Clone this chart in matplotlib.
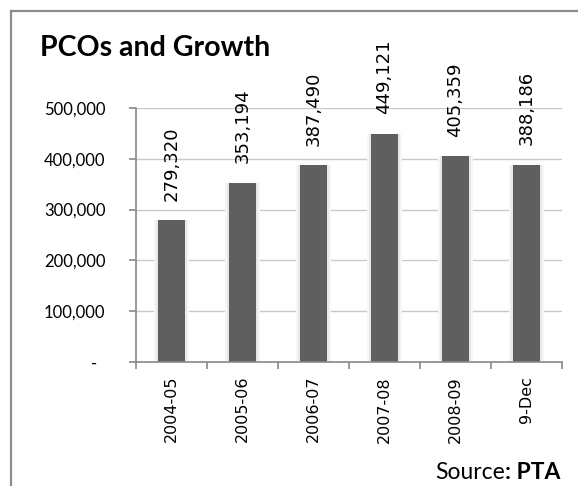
import matplotlib
matplotlib.use("Agg")
import matplotlib.pyplot as plt
from matplotlib.lines import Line2D
import numpy as np

# PCO counts per fiscal year
years = ["2004-05", "2005-06", "2006-07", "2007-08", "2008-09", "9-Dec"]
pcos = [279320, 353194, 387490, 449121, 405359, 388186]
yticks = [0, 100000, 200000, 300000, 400000, 500000]
ytick_labels = ["-  ", "100,000", "200,000", "300,000", "400,000", "500,000"]

fig = plt.figure(figsize=(5.78, 4.86), dpi=100)
fig.patch.set_facecolor("white")

# chart frame (left and top edges only)
fig.add_artist(Line2D([11 / 578, 11 / 578], [0, 1 - 11 / 486], color="#8c8c8c", lw=1.6))
fig.add_artist(Line2D([11 / 578, 1], [1 - 11 / 486, 1 - 11 / 486], color="#8c8c8c", lw=1.6))

ax = fig.add_axes([136 / 578, 124 / 486, 426 / 578, 254 / 486])
x = np.arange(len(years))

for v in yticks[1:]:
    ax.axhline(v, color="#c8c8c8", lw=1, zorder=0)

# soft glow behind each bar
ax.bar(x, pcos, width=0.50, color="#f6f6f6", zorder=1)
ax.bar(x, pcos, width=0.44, color="#e8e8e8", zorder=1)
ax.bar(x, pcos, width=0.37, color="#5f5f5f", zorder=2)

for xi, v in zip(x, pcos):
    ax.annotate(f"{v:,}", (xi, v), xytext=(0, 14), textcoords="offset points",
                rotation=90, ha="center", va="bottom", fontsize=13, color="black")

ax.set_xlim(-0.5, len(years) - 0.5)
ax.set_ylim(0, 500000)
ax.set_yticks(yticks)
ax.set_yticklabels(ytick_labels, fontsize=12, family="Lato")
ax.set_xticks(x)
ax.set_xticklabels(years, rotation=90, fontsize=11.5)
ax.tick_params(axis="x", length=0, pad=10)
ax.tick_params(axis="y", length=5, color="#888888", width=1.2, pad=17)
# category boundary ticks
ax.set_xticks(np.arange(len(years) + 1) - 0.5, minor=True)
ax.tick_params(axis="x", which="minor", length=5, color="#888888", width=1.2)

for side in ["top", "right"]:
    ax.spines[side].set_visible(False)
for side in ["left", "bottom"]:
    ax.spines[side].set_color("#888888")
    ax.spines[side].set_linewidth(1.2)

fig.text(40 / 578, 1 - 48 / 486, "PCOs and Growth", fontsize=20.5, fontweight="bold",
         family="Lato", va="center", ha="left")

src = fig.text(560 / 578, 1 - 472 / 486, ": PTA", fontsize=16.5, fontweight="bold",
               family="Lato", ha="right", va="center")
fig.canvas.draw()
bb = src.get_window_extent()
fig.text(bb.x0 / fig.bbox.width, 1 - 472 / 486, "Source", fontsize=16.5, family="Lato",
         ha="right", va="center")

fig.savefig("out.png", dpi=100)
